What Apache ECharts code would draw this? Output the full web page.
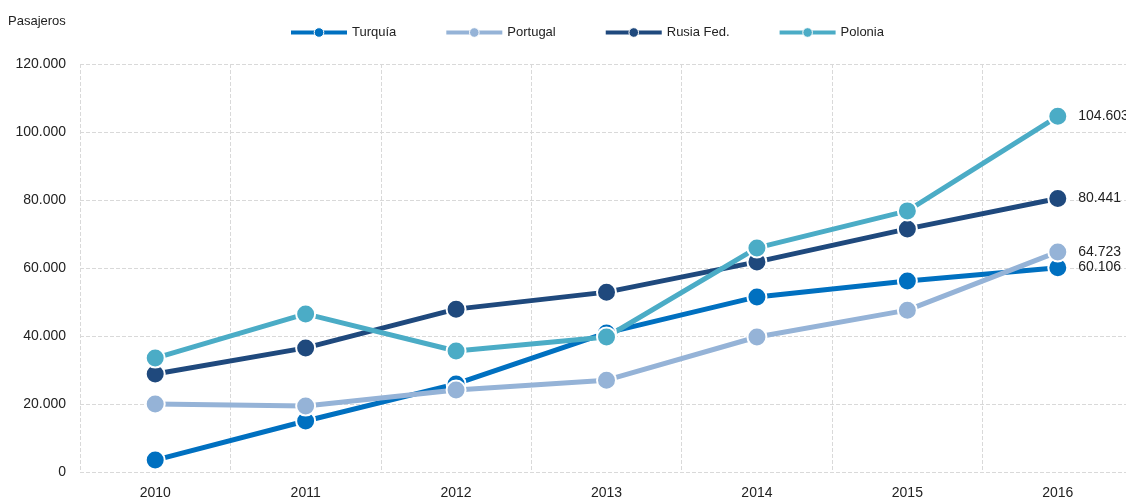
<!DOCTYPE html>
<html>
<head>
<meta charset="utf-8">
<script src="https://cdn.jsdelivr.net/npm/echarts@6/dist/echarts.min.js"></script>
<style>
  html, body { margin: 0; padding: 0; background: #fff; overflow: hidden; }
  #chart { width: 1133px; height: 500px; }
</style>
</head>
<body>
<div id="chart"></div>
<script>
const years = ['2010', '2011', '2012', '2013', '2014', '2015', '2016'];
const turquia = [3500, 15000, 25900, 40900, 51500, 56200, 60106];
const portugal = [20000, 19400, 24100, 27000, 39700, 47600, 64723];
const rusia = [28800, 36500, 47900, 52900, 61800, 71500, 80441];
const polonia = [33500, 46500, 35600, 39700, 65900, 76800, 104603];

const fontFamily = '"Liberation Sans", Arial, sans-serif';

const fmt = (v) => String(v).replace(/\B(?=(\d{3})+(?!\d))/g, '.');

function makeSeries(name, data, color) {
    return {
        name: name,
        type: 'line',
        data: data,
        symbol: 'circle',
        symbolSize: 19,
        lineStyle: { width: 5, color: color },
        itemStyle: { color: color, borderColor: '#fff', borderWidth: 2 },
        label: {
            show: true,
            position: 'right',
            distance: 10,
            color: '#222',
            fontSize: 14,
            fontFamily: fontFamily,
            formatter: (p) => (p.dataIndex === data.length - 1 ? fmt(p.value) : '')
        },
        emphasis: { disabled: true },
        animation: false
    };
}

const chart = echarts.init(document.getElementById('chart'));
chart.setOption({
    textStyle: { fontFamily: fontFamily },
    legend: {
        top: 21,
        left: 284,
        itemWidth: 56,
        itemHeight: 12,
        itemGap: 48,
        lineStyle: { width: 4 },
        itemStyle: { borderWidth: 1, borderColor: '#fff' },
        textStyle: { color: '#222', fontSize: 13, fontFamily: fontFamily },
        data: ['Turquía', 'Portugal', 'Rusia Fed.', 'Polonia']
    },
    grid: { left: 80, right: 0, top: 64, bottom: 28, containLabel: false },
    xAxis: {
        type: 'category',
        data: years,
        boundaryGap: true,
        axisLine: { show: false },
        axisTick: { show: false },
        axisLabel: { color: '#222', fontSize: 14, margin: 14, fontFamily: fontFamily },
        splitLine: { show: true, lineStyle: { color: '#d9d9d9', type: 'dashed', width: 1 } }
    },
    yAxis: {
        type: 'value',
        min: 0,
        max: 120000,
        interval: 20000,
        name: 'Pasajeros',
        nameLocation: 'end',
        nameGap: 36,
        nameTextStyle: { color: '#222', fontSize: 13, align: 'left', padding: [0, 0, 0, -72], fontFamily: fontFamily },
        axisLine: { show: false },
        axisTick: { show: false },
        axisLabel: { color: '#222', fontSize: 14, margin: 14, formatter: (v) => fmt(v), fontFamily: fontFamily },
        splitLine: { show: true, lineStyle: { color: '#d9d9d9', type: 'dashed', width: 1 } }
    },
    series: [
        makeSeries('Turquía', turquia, '#0070c0'),
        makeSeries('Portugal', portugal, '#95b3d7'),
        makeSeries('Rusia Fed.', rusia, '#1f497d'),
        makeSeries('Polonia', polonia, '#4bacc6')
    ]
});
</script>
</body>
</html>
